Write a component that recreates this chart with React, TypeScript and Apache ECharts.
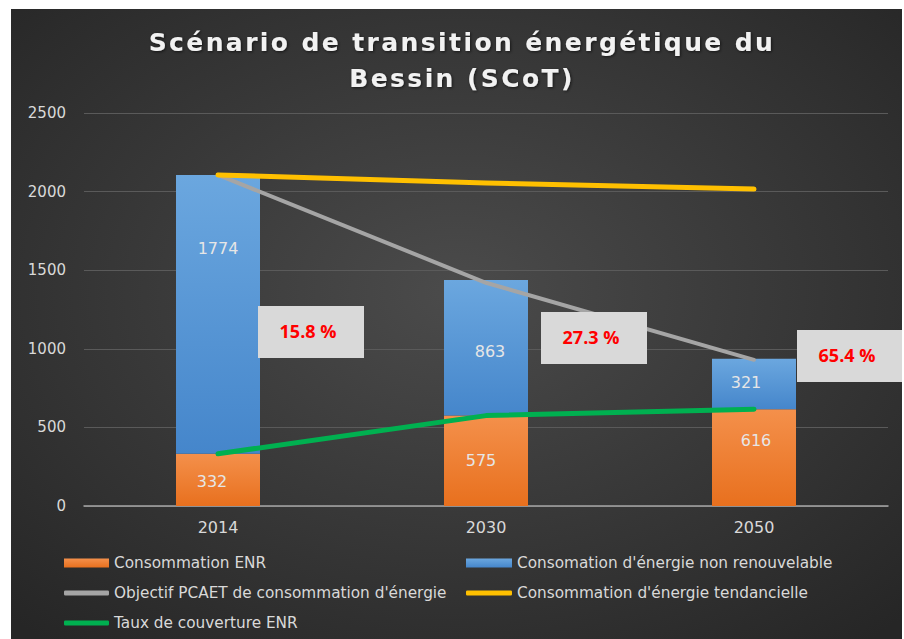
import React, { useEffect, useRef } from "react";
import * as echarts from "echarts";

const categories = ["2014", "2030", "2050"];
const consommationEnr = [332, 575, 616];
const nonRenouvelable = [1774, 863, 321];
const objectifPcaet = [2106, 1420, 930];
const tendancielle = [2106, 2055, 2016];
const tauxCouverture = [332, 575, 616];
const tauxLabels = ["15.8 %", "27.3 %", "65.4 %"];

const Y_MIN = 0;
const Y_MAX = 2500;
const Y_INTERVAL = 500;

const TITLE_LINES = ["Scénario de transition énergétique du", "Bessin (SCoT)"];

// label nudges (layout only)
const enrLabelOffsets = [[-6, 2], [-5, 0], [2, -17]];
const nrLabelOffsets = [[0, -66], [4, 4], [-8, -1]];
// annotation boxes (layout only)
const boxPositions = [[247, 297], [530, 303], [786, 321]];

const FONT = "DejaVu Sans";

const legendItem = (name: string, left: number, top: number, icon: string, w: number, h: number) => ({
  data: [{ name, icon }],
  left,
  top,
  orient: "horizontal",
  padding: 0,
  itemWidth: w,
  itemHeight: h,
  textStyle: { color: "#d9d9d9", fontSize: 15.3, fontFamily: FONT, lineHeight: 18 },
});

export default function App() {
  const ref = useRef<HTMLDivElement>(null);
  useEffect(() => {
    if (!ref.current) return;
    const chart = echarts.init(ref.current, null, { renderer: "svg" });
    const labelBase = {
      show: true,
      position: "inside",
      color: "#e6e6e6",
      fontSize: 16,
      fontFamily: FONT,
    };
    const option = {
      animation: false,
      backgroundColor: {
        type: "radial",
        x: 0.5,
        y: 0.45,
        r: 0.72,
        colorStops: [
          { offset: 0, color: "#4b4b4b" },
          { offset: 1, color: "#262626" },
        ],
      },
      title: {
        text: TITLE_LINES.join("\n"),
        left: 446,
        textAlign: "center",
        top: 10,
        textStyle: {
          color: "#f2f2f2",
          fontSize: 25,
          fontWeight: "bold",
          fontFamily: FONT,
          lineHeight: 36,
          textShadowColor: "rgba(0,0,0,0.6)",
          textShadowBlur: 3,
          textShadowOffsetX: 1,
          textShadowOffsetY: 1,
        },
      },
      grid: { left: 73, right: 14, top: 104, bottom: 133, containLabel: false },
      xAxis: {
        type: "category",
        data: categories,
        boundaryGap: true,
        axisLine: { show: true, lineStyle: { color: "#a6a6a6", width: 1.5 } },
        axisTick: { show: false },
        axisLabel: { color: "#d9d9d9", fontSize: 16, fontFamily: FONT, margin: 13 },
      },
      yAxis: {
        type: "value",
        min: Y_MIN,
        max: Y_MAX,
        interval: Y_INTERVAL,
        axisLine: { show: false },
        axisTick: { show: false },
        splitLine: { lineStyle: { color: "#5a5a5a", width: 1 } },
        axisLabel: {
          color: "#d9d9d9",
          fontSize: 15,
          fontFamily: FONT,
          margin: 18,
          formatter: (v: number) => String(v),
        },
      },
      legend: [
        legendItem("Consommation ENR", 53, 545, "rect", 45, 9),
        legendItem("Objectif PCAET de consommation d'énergie", 53, 575, "roundRect", 45, 5),
        legendItem("Taux de couverture ENR", 53, 605, "roundRect", 45, 5),
        legendItem("Consomation d'énergie non renouvelable", 455, 545, "rect", 46, 9),
        legendItem("Consommation d'énergie tendancielle", 455, 575, "roundRect", 46, 5),
      ],
      series: [
        {
          name: "Consommation ENR",
          type: "bar",
          stack: "total",
          barWidth: 84,
          itemStyle: {
            color: {
              type: "linear", x: 0, y: 0, x2: 0, y2: 1,
              colorStops: [
                { offset: 0, color: "#f4904b" },
                { offset: 1, color: "#e8701e" },
              ],
            },
          },
          label: labelBase,
          data: consommationEnr.map((v, i) => ({ value: v, label: { offset: enrLabelOffsets[i] } })),
          z: 2,
        },
        {
          name: "Consomation d'énergie non renouvelable",
          type: "bar",
          stack: "total",
          barWidth: 84,
          itemStyle: {
            color: {
              type: "linear", x: 0, y: 0, x2: 0, y2: 1,
              colorStops: [
                { offset: 0, color: "#6ba7df" },
                { offset: 1, color: "#4586cb" },
              ],
            },
          },
          label: labelBase,
          data: nonRenouvelable.map((v, i) => ({ value: v, label: { offset: nrLabelOffsets[i] } })),
          z: 2,
        },
        {
          name: "Objectif PCAET de consommation d'énergie",
          type: "line",
          data: objectifPcaet,
          color: "#a5a5a5",
          showSymbol: false,
          symbol: "none",
          lineStyle: { color: "#a5a5a5", width: 4, cap: "round", join: "round" },
          z: 3,
        },
        {
          name: "Consommation d'énergie tendancielle",
          type: "line",
          data: tendancielle,
          color: "#ffc000",
          showSymbol: false,
          symbol: "none",
          lineStyle: { color: "#ffc000", width: 5, cap: "round", join: "round" },
          z: 4,
        },
        {
          name: "Taux de couverture ENR",
          type: "line",
          data: tauxCouverture,
          color: "#00b050",
          showSymbol: false,
          symbol: "none",
          lineStyle: { color: "#00b050", width: 5, cap: "round", join: "round" },
          z: 5,
        },
      ],
      graphic: tauxLabels.map((t, i) => ({
        type: "group",
        x: boxPositions[i][0],
        y: boxPositions[i][1],
        z: 100,
        children: [
          {
            type: "rect",
            z: 100,
            shape: { x: 0, y: 0, width: 106, height: 52 },
            style: { fill: "#d9d9d9" },
          },
          {
            type: "text",
            z: 101,
            x: 50,
            y: 25,
            style: {
              text: t,
              fill: "#ff0000",
              font: 'bold 18px "Open Sans"',
              align: "center",
              verticalAlign: "middle",
            },
          },
        ],
      })),
    };
    chart.setOption(option as any);
    // widen the title's letter spacing, as in the reference
    const texts = ref.current.querySelectorAll("text");
    texts.forEach((el) => {
      const c = (el.textContent || "").trim();
      if (TITLE_LINES.includes(c)) {
        (el as SVGTextElement).style.letterSpacing = "2.4px";
      }
    });
    return () => chart.dispose();
  }, []);
  return (
    <div
      ref={ref}
      style={{ position: "absolute", left: 11, top: 9, width: 891, height: 630 }}
    />
  );
}
